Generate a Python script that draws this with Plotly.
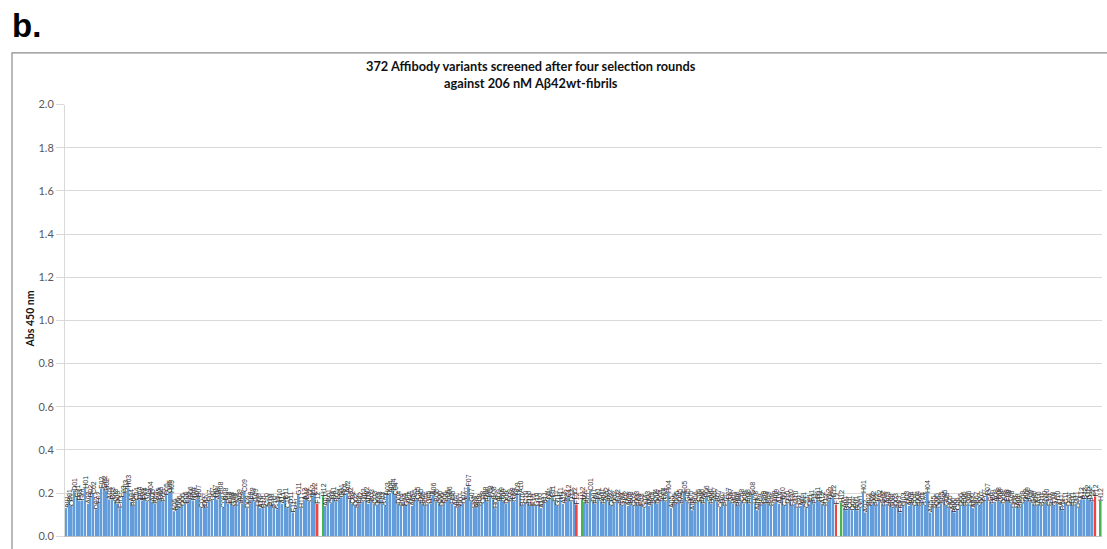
import plotly.graph_objects as go

# Absorbance at 450 nm for each well, four 96-well plates, column-wise order
# (A01, B01, ... H01, A02, ...). Wells A01-E12 hold Affibody variants,
# F12 and H12 are controls, G12 is empty.
plate1 = [0.13, 0.16, 0.14, 0.21, 0.18, 0.165, 0.165, 0.22, 0.15, 0.18,
          0.195, 0.125, 0.15, 0.22, 0.22, 0.21, 0.17, 0.17, 0.16, 0.15,
          0.13, 0.18, 0.20, 0.225, 0.16, 0.14, 0.165, 0.17, 0.165, 0.17,
          0.16, 0.195, 0.16, 0.15, 0.165, 0.17, 0.16, 0.19, 0.20, 0.20,
          0.115, 0.12, 0.13, 0.14, 0.15, 0.15, 0.17, 0.165, 0.17, 0.18,
          0.13, 0.14, 0.13, 0.16, 0.165, 0.18, 0.17, 0.195, 0.13, 0.165,
          0.15, 0.15, 0.14, 0.14, 0.16, 0.15, 0.205, 0.13, 0.15, 0.17,
          0.16, 0.14, 0.13, 0.13, 0.14, 0.135, 0.14, 0.13, 0.125, 0.16,
          0.15, 0.17, 0.13, 0.15, 0.11, 0.125, 0.19, 0.13, 0.166, 0.17,
          0.16, 0.18, 0.19]
plate2 = [0.14, 0.16, 0.15, 0.17, 0.16, 0.17, 0.18, 0.19, 0.20, 0.17,
          0.15, 0.14, 0.13, 0.15, 0.16, 0.17, 0.15, 0.16, 0.15, 0.14,
          0.15, 0.15, 0.14, 0.19, 0.20, 0.21, 0.19, 0.15, 0.14, 0.14,
          0.14, 0.15, 0.14, 0.16, 0.17, 0.16, 0.15, 0.14, 0.15, 0.15,
          0.19, 0.16, 0.15, 0.14, 0.15, 0.16, 0.17, 0.15, 0.14, 0.13,
          0.14, 0.15, 0.17, 0.23, 0.16, 0.13, 0.13, 0.14, 0.15, 0.17,
          0.16, 0.18, 0.17, 0.13, 0.16, 0.17, 0.16, 0.15, 0.16, 0.17,
          0.16, 0.19, 0.20, 0.14, 0.15, 0.15, 0.14, 0.14, 0.14, 0.14,
          0.13, 0.15, 0.16, 0.17, 0.18, 0.16, 0.14, 0.17, 0.15, 0.16,
          0.18, 0.16, 0.17]
plate3 = [0.16, 0.15, 0.21, 0.16, 0.15, 0.17, 0.16, 0.15, 0.17, 0.16,
          0.14, 0.15, 0.16, 0.15, 0.14, 0.15, 0.14, 0.15, 0.14, 0.15,
          0.14, 0.14, 0.13, 0.15, 0.14, 0.15, 0.16, 0.15, 0.16, 0.17,
          0.16, 0.20, 0.13, 0.14, 0.15, 0.16, 0.15, 0.20, 0.16, 0.15,
          0.12, 0.15, 0.16, 0.16, 0.15, 0.18, 0.16, 0.15, 0.17, 0.16,
          0.13, 0.15, 0.14, 0.17, 0.16, 0.15, 0.15, 0.14, 0.16, 0.15,
          0.16, 0.15, 0.19, 0.15, 0.12, 0.14, 0.15, 0.15, 0.15, 0.14,
          0.15, 0.16, 0.15, 0.17, 0.14, 0.15, 0.16, 0.14, 0.15, 0.13,
          0.14, 0.15, 0.13, 0.14, 0.16, 0.15, 0.17, 0.16, 0.15, 0.14,
          0.16, 0.17, 0.18]
plate4 = [0.13, 0.12, 0.13, 0.12, 0.13, 0.12, 0.13, 0.20, 0.11, 0.14,
          0.14, 0.15, 0.14, 0.16, 0.15, 0.14, 0.15, 0.14, 0.13, 0.14,
          0.13, 0.11, 0.14, 0.15, 0.14, 0.15, 0.14, 0.15, 0.14, 0.15,
          0.14, 0.20, 0.11, 0.13, 0.14, 0.13, 0.15, 0.16, 0.14, 0.13,
          0.12, 0.11, 0.12, 0.14, 0.15, 0.14, 0.15, 0.14, 0.13, 0.15,
          0.14, 0.15, 0.16, 0.19, 0.16, 0.15, 0.16, 0.17, 0.16, 0.15,
          0.16, 0.16, 0.15, 0.13, 0.14, 0.13, 0.15, 0.16, 0.17, 0.16,
          0.15, 0.14, 0.15, 0.14, 0.15, 0.16, 0.14, 0.15, 0.14, 0.15,
          0.14, 0.12, 0.15, 0.14, 0.15, 0.14, 0.15, 0.13, 0.17, 0.17,
          0.18, 0.17, 0.16]
plates = [plate1, plate2, plate3, plate4]

# Control wells per plate
ctrl_f12 = [0.150, 0.147, 0.147, 0.184]   # red
ctrl_h12 = [0.185, 0.170, 0.155, 0.163]   # green

rows = list("ABCDEFGH")
wells = [f"{r}{c:02d}" for c in range(1, 13) for r in rows]

BLUE, RED, GREEN = "#639CDA", "#F0443E", "#45B554"

y_vals, labels, colors = [], [], []
for p, variants in enumerate(plates):
    for w_idx, well in enumerate(wells):
        if w_idx < len(variants):
            y_vals.append(variants[w_idx]); labels.append(well); colors.append(BLUE)
        elif well == "F12":
            y_vals.append(ctrl_f12[p]); labels.append(well); colors.append(RED)
        elif well == "H12":
            y_vals.append(ctrl_h12[p]); labels.append(well); colors.append(GREEN)
        else:
            y_vals.append(None); labels.append(""); colors.append(BLUE)

x_pos = list(range(len(y_vals)))

fig = go.Figure(go.Bar(
    x=x_pos, y=y_vals, text=labels,
    marker=dict(color=colors, line=dict(width=0)),
    textposition="outside", textangle=-90, constraintext="none",
    cliponaxis=False,
    textfont=dict(family="Liberation Sans, Arial, sans-serif", size=7, color="#333333"),
    hoverinfo="x+y",
))

W, H = 1107, 549
px_x = lambda v: v / W
px_y = lambda v: 1 - v / H

fig.update_layout(
    width=W, height=H,
    margin=dict(l=0, r=0, t=0, b=0),
    paper_bgcolor="white", plot_bgcolor="white",
    bargap=0.35, showlegend=False,
    xaxis=dict(domain=[px_x(65), px_x(1102)], range=[-0.5, len(y_vals) - 0.5],
               showticklabels=False, showgrid=False, zeroline=False,
               showline=True, linecolor="#bfbfbf", linewidth=1, ticks=""),
    yaxis=dict(domain=[px_y(542), px_y(100)], range=[0, 2.0], dtick=0.2,
               tickformat=".1f", showgrid=True, gridcolor="#d9d9d9", gridwidth=1,
               zeroline=False, showline=True, linecolor="#d9d9d9", linewidth=1,
               ticks="outside", ticklen=8, tickcolor="#d9d9d9",
               tickfont=dict(family="Lato, Liberation Sans, sans-serif", size=11, color="#595959")),
    shapes=[dict(type="rect", xref="paper", yref="paper",
                 x0=px_x(12), x1=1.02, y0=-0.05, y1=px_y(47),
                 line=dict(color="#8c8c8c", width=1.2), fillcolor="rgba(0,0,0,0)", layer="below")],
    annotations=[
        dict(text="<b>b.</b>", x=px_x(10), y=px_y(19), xref="paper", yref="paper",
             xanchor="left", yanchor="middle", showarrow=False,
             font=dict(family="Liberation Sans, Arial, sans-serif", size=33, color="black")),
        dict(text="<b>372 Affibody variants screened after four selection rounds<br>against 206 nM Aβ42wt-fibrils</b>",
             x=px_x(531), y=px_y(69), xref="paper", yref="paper",
             xanchor="center", yanchor="middle", showarrow=False, align="center",
             font=dict(family="Lato, Liberation Sans, sans-serif", size=12.8, color="#111111")),
        dict(text="<b>Abs 450 nm</b>", x=px_x(30), y=px_y(320), xref="paper", yref="paper",
             xanchor="center", yanchor="middle", showarrow=False, textangle=-90,
             font=dict(family="Lato, Liberation Sans, sans-serif", size=10.5, color="#111111")),
    ],
)

fig.write_html("out.html")
